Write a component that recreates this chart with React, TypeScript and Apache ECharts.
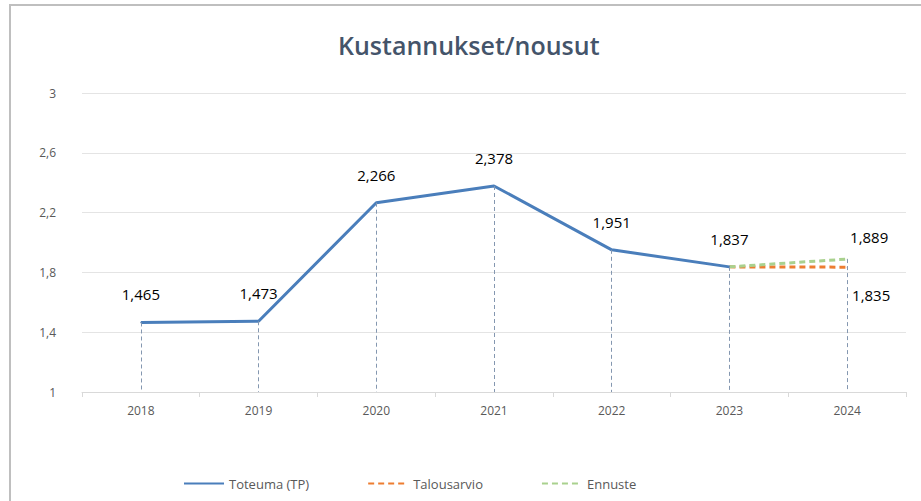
import React, { useEffect, useRef } from "react";
import * as echarts from "echarts";

const years = ["2018", "2019", "2020", "2021", "2022", "2023", "2024"];
const toteuma = [1.465, 1.473, 2.266, 2.378, 1.951, 1.837, null];
const talousarvio = [null, null, null, null, null, 1.837, 1.835];
const ennuste = [null, null, null, null, null, 1.837, 1.889];
const yMin = 1;
const yMax = 3;
const yStep = 0.4;

const fmt = (v: number) => v.toFixed(3).replace(".", ",");

export default function App() {
  const ref = useRef<HTMLDivElement>(null);
  useEffect(() => {
    const chart = echarts.init(ref.current!, null, { renderer: "svg" });
    const dropStyle = { color: "#8497B0", width: 1, type: [4, 3] as any };
    const hiddenSym = { symbol: "circle", symbolSize: 1, showSymbol: true };
    chart.setOption({
      animation: false,
      backgroundColor: "#ffffff",
      textStyle: { fontFamily: "Open Sans" },
      title: {
        text: "Kustannukset/nousut",
        left: 333,
        top: 27,
        textStyle: { fontFamily: "Open Sans", fontSize: 25, fontWeight: 600, color: "#44546A" },
      },
      graphic: [
        { type: "rect", shape: { x: 10, y: 5, width: 930, height: 520 }, style: { fill: "none", stroke: "#BFBFBF", lineWidth: 2 }, silent: true },
      ],
      grid: { left: 82, right: 15, top: 93, bottom: 109 },
      legend: {
        bottom: 6,
        left: 178,
        itemGap: 58,
        itemWidth: 40,
        itemHeight: 10,
        itemStyle: { opacity: 0 },
        textStyle: { color: "#595959", fontSize: 13, fontFamily: "Open Sans" },
        data: ["Toteuma (TP)", "Talousarvio", "Ennuste"],
      },
      xAxis: {
        type: "category",
        data: years,
        boundaryGap: true,
        axisLine: { lineStyle: { color: "#D9D9D9" } },
        axisTick: { show: true, length: 5, lineStyle: { color: "#D9D9D9" } },
        axisLabel: { color: "#595959", fontSize: 12, margin: 12 },
      },
      yAxis: {
        type: "value",
        min: yMin,
        max: yMax,
        interval: yStep,
        axisLine: { show: false },
        axisTick: { show: false },
        axisLabel: {
          color: "#595959",
          fontSize: 12,
          margin: 26,
          formatter: (v: number) => String(Math.round(v * 10) / 10).replace(".", ","),
        },
        splitLine: { lineStyle: { color: "#E4E4E4", width: 1 } },
      },
      series: [
        {
          name: "Toteuma (TP)",
          type: "line",
          data: toteuma,
          ...hiddenSym,
          lineStyle: { color: "#4A7EBB", width: 3 },
          itemStyle: { color: "#4A7EBB" },
          z: 3,
          label: {
            show: true,
            position: "top",
            distance: 20,
            color: "#000",
            fontSize: 15,
            formatter: (p: any) => fmt(p.value),
          },
          markLine: {
            silent: true,
            symbol: "none",
            label: { show: false },
            lineStyle: dropStyle,
            data: toteuma
              .map((v, i) => (v == null ? null : [{ coord: [i, v] }, { coord: [i, yMin] }]))
              .filter((d) => d) as any,
          },
        },
        {
          name: "Talousarvio",
          type: "line",
          data: talousarvio,
          ...hiddenSym,
          lineStyle: { color: "#ED7D31", width: 3, type: [6, 4] },
          itemStyle: { color: "#ED7D31" },
          z: 2,
          label: {
            show: true,
            position: "bottom",
            distance: 20,
            offset: [24, 0],
            color: "#000",
            fontSize: 15,
            formatter: (p: any) => (p.dataIndex === years.length - 1 ? fmt(p.value) : ""),
          },
        },
        {
          name: "Ennuste",
          type: "line",
          data: ennuste,
          ...hiddenSym,
          lineStyle: { color: "#A9D18E", width: 3, type: [6, 4] },
          itemStyle: { color: "#A9D18E" },
          z: 2,
          label: {
            show: true,
            position: "top",
            distance: 14,
            offset: [22, 0],
            color: "#000",
            fontSize: 15,
            formatter: (p: any) => (p.dataIndex === years.length - 1 ? fmt(p.value) : ""),
          },
          markLine: {
            silent: true,
            symbol: "none",
            label: { show: false },
            lineStyle: dropStyle,
            data: [[{ coord: [years.length - 1, ennuste[years.length - 1]] }, { coord: [years.length - 1, yMin] }]] as any,
          },
        },
      ],
    });
    return () => chart.dispose();
  }, []);
  return <div ref={ref} style={{ position: "absolute", left: 0, top: 0, width: 921, height: 501 }} />;
}
